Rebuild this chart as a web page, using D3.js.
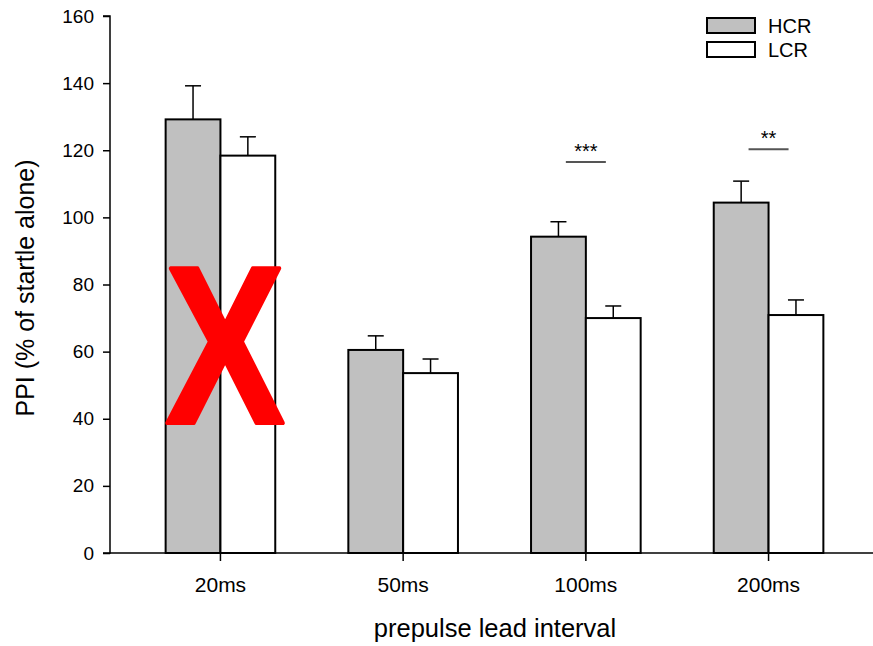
<!DOCTYPE html>
<html><head><meta charset="utf-8">
<script src="https://cdn.jsdelivr.net/npm/d3@7"></script>
<style>body{margin:0;background:#fff}svg{display:block}text{font-family:"Liberation Sans",Arial,sans-serif}</style>
</head><body><svg id="c" width="873" height="646"></svg>
<script>
const categories = ["20ms","50ms","100ms","200ms"];
const seriesNames = ["HCR","LCR"];
const hcrMean = [129.2, 60.5, 94.25, 104.4];
const hcrSem  = [10.0, 4.2, 4.45, 6.4];
const lcrMean = [118.4, 53.6, 70.0, 70.9];
const lcrSem  = [5.6, 4.2, 3.6, 4.5];
const yTicks = [0,20,40,60,80,100,120,140,160];
const sigLabels = [
  {cat:"100ms", label:"***", level:116.5},
  {cat:"200ms", label:"**", level:120.3}
];
const yTitle = "PPI (% of startle alone)";
const xTitle = "prepulse lead interval";

const svg = d3.select("#c");
const x0 = 110, x1 = 879, yTop = 16, yBot = 553;
const x = d3.scaleBand().domain(categories).range([x0,x1]).paddingInner(0.4).paddingOuter(0.3045);
const xs = d3.scaleBand().domain(seriesNames).range([0,x.bandwidth()]);
const y = d3.scaleLinear().domain([0,160]).range([yBot,yTop]);
const fills = {HCR:"#c0c0c0", LCR:"#ffffff"};

const data = [];
categories.forEach((c,i)=>{
  data.push({cat:c, s:"HCR", m:hcrMean[i], e:hcrSem[i]});
  data.push({cat:c, s:"LCR", m:lcrMean[i], e:lcrSem[i]});
});

// error bars (behind bars)
const eg = svg.append("g").attr("stroke","#000").attr("stroke-width",1.5);
data.forEach(d=>{
  const cx = x(d.cat)+xs(d.s)+xs.bandwidth()/2;
  eg.append("line").attr("x1",cx).attr("x2",cx).attr("y1",y(d.m)).attr("y2",y(d.m+d.e));
  eg.append("line").attr("x1",cx-8).attr("x2",cx+8).attr("y1",y(d.m+d.e)).attr("y2",y(d.m+d.e));
});

svg.append("g").selectAll("rect").data(data).join("rect")
  .attr("x",d=>x(d.cat)+xs(d.s)).attr("width",xs.bandwidth())
  .attr("y",d=>y(d.m)).attr("height",d=>y(0)-y(d.m))
  .attr("fill",d=>fills[d.s]).attr("stroke","#000").attr("stroke-width",2);

// axes
const ya = svg.append("g").attr("transform",`translate(${x0},0)`)
  .call(d3.axisLeft(y).tickValues(yTicks).tickSize(7).tickPadding(9).tickFormat(d3.format("d")));
ya.select(".domain").attr("stroke-width",1.5).attr("d",`M-7,${yTop}H0V${yBot}H-7`);
ya.selectAll(".tick line").attr("stroke-width",1.5);
ya.selectAll("text").attr("font-size",19).attr("font-family","Liberation Sans, Arial").attr("fill","#000");

const xa = svg.append("g").attr("transform",`translate(0,${yBot})`)
  .call(d3.axisBottom(x).tickSize(8).tickPadding(16));
xa.select(".domain").attr("stroke-width",1.5).attr("d",`M${x0},0H${x1}`);
xa.selectAll(".tick line").attr("stroke-width",1.5);
xa.selectAll("text").attr("font-size",21).attr("font-family","Liberation Sans, Arial").attr("fill","#000");

// titles
svg.append("text").attr("transform",`translate(34,288) rotate(-90)`).attr("text-anchor","middle")
  .attr("font-size",25).text(yTitle);
svg.append("text").attr("x",495).attr("y",637).attr("text-anchor","middle").attr("font-size",25.5).text(xTitle);

// significance
sigLabels.forEach(s=>{
  const cx = x(s.cat)+x.bandwidth()/2;
  svg.append("line").attr("x1",cx-20).attr("x2",cx+20).attr("y1",y(s.level)).attr("y2",y(s.level))
    .attr("stroke","#555").attr("stroke-width",1.8);
  svg.append("text").attr("x",cx).attr("y",y(s.level)-4).attr("text-anchor","middle")
    .attr("font-size",20).text(s.label);
});

// legend
const lg = svg.append("g");
seriesNames.forEach((s,i)=>{
  lg.append("rect").attr("x",707).attr("y",18+i*24).attr("width",48).attr("height",15)
    .attr("fill",fills[s]).attr("stroke","#000").attr("stroke-width",2);
  lg.append("text").attr("x",768).attr("y",33+i*24).attr("font-size",20).text(s);
});

// red cross-out mark
svg.append("text").attr("transform",`translate(225,423) scale(0.8,1)`).attr("text-anchor","middle")
  .attr("font-size",224).attr("font-weight","bold").attr("fill","#ff0000")
  .attr("stroke","#ff0000").attr("stroke-width",4).attr("stroke-linejoin","round").text("X");
</script></body></html>
